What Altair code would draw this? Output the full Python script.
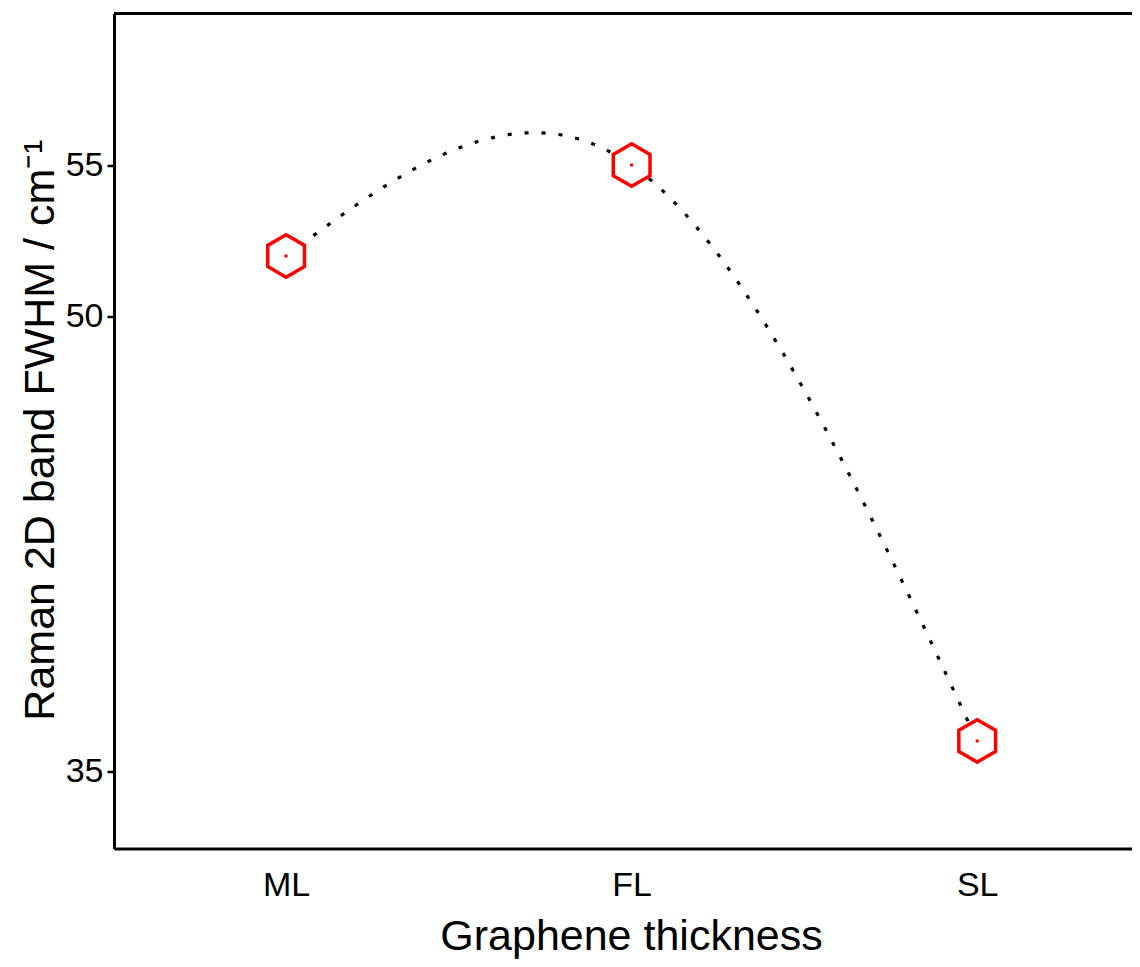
import altair as alt
import pandas as pd

# Data
categories = ["ML", "FL", "SL"]
positions = [1, 2, 3]
fwhm = [52.0, 55.0, 36.0]
y_ticks = [35, 50, 55]

df = pd.DataFrame({"pos": positions, "cat": categories, "fwhm": fwhm})

W, H = 1018, 835
FONT = "Liberation Sans"

label_expr = " : ".join(
    [f"datum.value == {p} ? '{c}'" for p, c in zip(positions, categories)]
) + " : ''"

x_enc = alt.X(
    "pos:Q",
    scale=alt.Scale(domain=[0.502, 3.448], nice=False, zero=False),
    axis=alt.Axis(
        values=positions,
        labelExpr=label_expr,
        ticks=False,
        tickSize=0,
        grid=False,
        domainWidth=3,
        domainColor="black",
        labelFontSize=34,
        labelFont=FONT,
        labelColor="black",
        labelPadding=20,
        title="Graphene thickness",
        titleFontSize=43,
        titleFont=FONT,
        titleFontWeight="normal",
        titleColor="black",
        titleBaseline="alphabetic",
        titleAlign="center",
        titleX=517,
        titleY=101,
    ),
)
y_enc = alt.Y(
    "fwhm:Q",
    scale=alt.Scale(domain=[32.45, 60.0], nice=False, zero=False),
    axis=alt.Axis(
        values=y_ticks,
        grid=False,
        tickSize=7,
        tickWidth=2.5,
        tickColor="black",
        domainWidth=3,
        domainColor="black",
        labelFontSize=34,
        labelFont=FONT,
        labelColor="black",
        labelPadding=4,
        title="Raman 2D band FWHM / cm⁻¹",
        titleFontSize=43,
        titleFont=FONT,
        titleFontWeight="normal",
        titleColor="black",
        titleAngle=-90,
        titleBaseline="alphabetic",
        titleAlign="center",
        titleX=-61,
        titleY=416,
    ),
)

base = alt.Chart(df)

line = base.mark_line(
    interpolate="natural",
    color="black",
    strokeWidth=3.2,
    strokeDash=[4, 13],
).encode(x=x_enc, y=y_enc)

HEX = "M0,-1L0.866,-0.5L0.866,0.5L0,1L-0.866,0.5L-0.866,-0.5Z"
hexes = base.mark_point(
    shape=HEX,
    size=1800,
    fill="white",
    fillOpacity=1,
    stroke="#ff0000",
    strokeWidth=3.5,
    opacity=1,
).encode(x="pos:Q", y="fwhm:Q")

dots = base.mark_point(
    shape="circle", size=12, filled=True, color="#ff0000", opacity=1
).encode(x="pos:Q", y="fwhm:Q")

top_border = base.mark_rule(color="black", strokeWidth=3).encode(
    x=alt.value(0), x2=alt.value(W), y=alt.value(0)
)

chart = (
    alt.layer(line, hexes, dots, top_border)
    .properties(
        width=W,
        height=H,
        autosize=alt.AutoSizeParams(type="none"),
        padding={"left": 106, "top": 5.5, "right": 0, "bottom": 110},
    )
    .configure_view(stroke=None)
    .configure(background="white")
)

chart.save("out.html", embed_options={"renderer": "svg", "actions": False})
